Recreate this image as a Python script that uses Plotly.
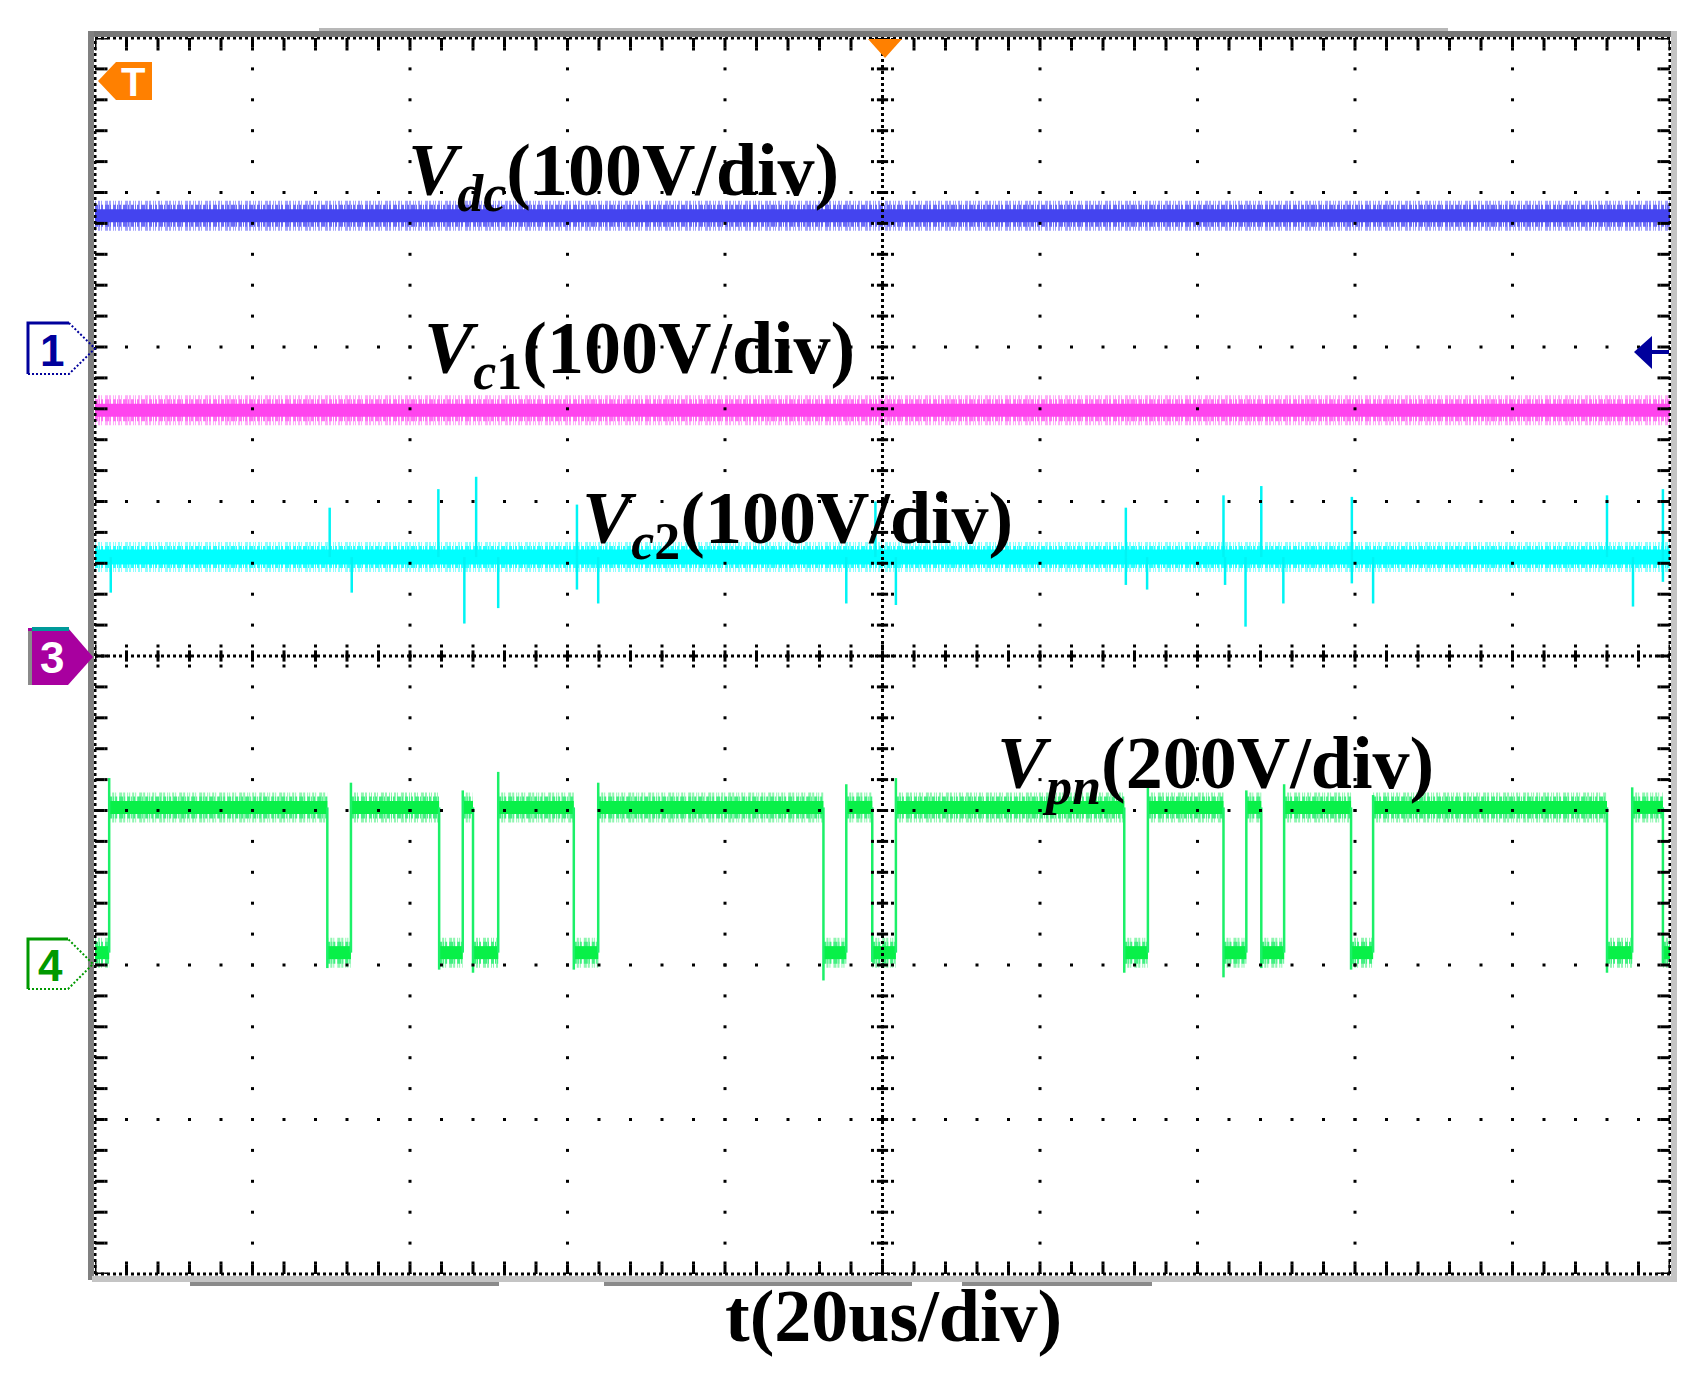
import plotly.graph_objects as go

# ---------------- data ----------------
# time axis in microseconds (20 us/div, 10 div), vertical in screen divisions (8 div)
TIME_SPAN_US = [0.0, 200.0]
VDC_LEVEL_DIV = 6.85
VC1_LEVEL_DIV = 5.59
VC2_LEVEL_DIV = 4.64
VPN_HIGH_DIV = 3.02
VPN_LOW_DIV = 2.08

# Vpn switching edges
VPN_RISE_US = [1.8, 32.5, 46.7, 51.2, 63.9, 95.4, 101.7, 133.7, 146.2, 151.0, 162.3, 195.2]
VPN_RISE_MAX = [3.21, 3.18, 3.13, 3.25, 3.18, 3.17, 3.21, 3.15, 3.13, 3.17, 3.10, 3.15]
VPN_FALL_US = [29.5, 43.7, 48.0, 60.8, 92.5, 98.7, 130.7, 143.3, 148.1, 159.5, 192.0, 199.1]
VPN_FALL_MIN = [1.98, 1.97, 1.95, 1.97, 1.90, 2.02, 1.95, 1.92, 1.98, 1.97, 1.95, 2.01]

# Vc2 switching spikes
VC2_SPIKE_US = [29.8, 43.6, 48.4, 61.2, 99.1, 130.9, 143.3, 148.1, 159.6, 192.0, 199.1,
                2.0, 32.6, 46.9, 51.2, 61.2, 63.9, 95.4, 101.7, 130.9, 133.6, 143.5,
                146.1, 150.9, 159.6, 162.3, 195.3, 199.1]
VC2_SPIKE_PEAK = [4.96, 5.08, 5.16, 4.98, 5.00, 4.96, 5.04, 5.10, 5.03, 5.04, 5.08,
                  4.41, 4.41, 4.21, 4.31, 4.43, 4.34, 4.34, 4.33, 4.46, 4.43, 4.46,
                  4.19, 4.34, 4.47, 4.34, 4.32, 4.48]

LABELS = ["<b><i>V</i><sub><i>dc</i></sub>(100V/div)</b>",
          "<b><i>V</i><sub><i>c</i>1</sub>(100V/div)</b>",
          "<b><i>V</i><sub><i>c</i>2</sub>(100V/div)</b>",
          "<b><i>V</i><sub><i>pn</i></sub>(200V/div)</b>"]
AXIS_LABEL = "<b>t(20us/div)</b>"

# ---------------- geometry (page pixels) ----------------
OFF = 8                     # browser body margin
FW, FH = 1685, 1350         # figure size
PL, PR, PT, PB = 95, 1670, 38, 1274
XMAX, YMAX = 200.0, 8.0


def dx(px):  # pixel length -> data x length
    return px * XMAX / (PR - PL)


def dy(px):
    return px * YMAX / (PB - PT)


def fx(px):  # page pixel -> paper
    return (px - PL) / (PR - PL)


def fy(py):
    return (PB - py) / (PB - PT)


def path(pts, close=True):
    s = "M " + " L ".join(f"{fx(x):.5f},{fy(y):.5f}" for x, y in pts)
    return s + (" Z" if close else "")


fig = go.Figure()

DASH_A = "1px,2px,2px,1px,1px,3px,3px,1px,2px,2px,1px,1px"
DASH_B = "3px,1px,1px,1px,2px,2px,4px,1px,1px,2px"


def band(x, y, c_light, c_mid, c_core, w_light=30, w_mid=22, w_core=12):
    for color, width, dash in [(c_light, w_light, DASH_A), (c_mid, w_mid, DASH_B), (c_core, w_core, "solid")]:
        fig.add_trace(go.Scatter(x=x, y=y, mode="lines",
                                 line=dict(color=color, width=width, dash=dash),
                                 hoverinfo="skip", showlegend=False))


# Vdc, Vc1
band(TIME_SPAN_US, [VDC_LEVEL_DIV] * 2, "#a0a0fc", "#6a6af6", "#4444ef", 30, 22, 13)
band(TIME_SPAN_US, [VC1_LEVEL_DIV] * 2, "#ffacf8", "#ff74f3", "#ff44ee", 30, 22, 13)

# Vc2 with spikes
band(TIME_SPAN_US, [VC2_LEVEL_DIV] * 2, "#8cffff", "#2cffff", "#00ffff", 30, 22, 15)
sx, sy = [], []
for t, p in zip(VC2_SPIKE_US, VC2_SPIKE_PEAK):
    sx += [t, t, None]
    sy += [VC2_LEVEL_DIV, p, None]
fig.add_trace(go.Scatter(x=sx, y=sy, mode="lines", line=dict(color="#00f4f4", width=2.5),
                         hoverinfo="skip", showlegend=False))

# Vpn square wave
events = sorted([(t, "rise", p) for t, p in zip(VPN_RISE_US, VPN_RISE_MAX)] +
                [(t, "fall", p) for t, p in zip(VPN_FALL_US, VPN_FALL_MIN)])
level = VPN_LOW_DIV
t_prev = TIME_SPAN_US[0]
seg_x, seg_y, ex, ey = [], [], [], []
for t, kind, p in events:
    seg_x += [t_prev, t, None]
    seg_y += [level, level, None]
    ex += [t, t, None]
    if kind == "rise":
        ey += [VPN_LOW_DIV, p, None]
        level = VPN_HIGH_DIV
    else:
        ey += [VPN_HIGH_DIV, p, None]
        level = VPN_LOW_DIV
    t_prev = t
seg_x += [t_prev, TIME_SPAN_US[1]]
seg_y += [level, level]
band(seg_x, seg_y, "#8ef6b0", "#40f080", "#08f048", 30, 22, 13)
fig.add_trace(go.Scatter(x=ex, y=ey, mode="lines", line=dict(color="#1cf068", width=2.5),
                         hoverinfo="skip", showlegend=False))

# ---------------- graticule (drawn above traces) ----------------
gx, gy = [], []
for i in range(1, 10):
    for k in range(41):
        gx.append(i * 20)
        gy.append(k * 0.2)
for j in range(1, 8):
    for k in range(51):
        gx.append(k * 4)
        gy.append(j)
fig.add_trace(go.Scatter(x=gx, y=gy, mode="markers",
                         marker=dict(symbol="square", size=3, color="black", line=dict(width=0)),
                         hoverinfo="skip", showlegend=False))

tx_ns, ty_ns, tx_ew, ty_ew, dxs, dys = [], [], [], [], [], []
for k in range(51):
    x = k * 4
    tx_ns += [x, x, x]
    ty_ns += [4, dy(4), YMAX - dy(4)]
    dxs += [x, x, x, x]
    dys += [4 + dy(10), 4 - dy(10), dy(11), YMAX - dy(11)]
for k in range(41):
    y = k * 0.2
    tx_ew += [100, dx(4), XMAX - dx(4)]
    ty_ew += [y, y, y]
    dxs += [100 + dx(10), 100 - dx(10), dx(11), XMAX - dx(11)]
    dys += [y, y, y, y]
fig.add_trace(go.Scatter(x=tx_ns, y=ty_ns, mode="markers",
                         marker=dict(symbol="line-ns", size=8, line=dict(width=3, color="black")),
                         hoverinfo="skip", showlegend=False))
fig.add_trace(go.Scatter(x=tx_ew, y=ty_ew, mode="markers",
                         marker=dict(symbol="line-ew", size=8, line=dict(width=3, color="black")),
                         hoverinfo="skip", showlegend=False))
fig.add_trace(go.Scatter(x=dxs, y=dys, mode="markers",
                         marker=dict(symbol="square", size=3, color="black", line=dict(width=0)),
                         hoverinfo="skip", showlegend=False))

shapes = []
dot = dict(color="black", width=3, dash="3px,3px")
for x0, y0, x1, y1 in [(0, 0, 1, 0), (0, 1, 1, 1), (0, 0, 0, 1), (1, 0, 1, 1),
                       (0, 0.5, 1, 0.5), (0.5, 0, 0.5, 1)]:
    shapes.append(dict(type="line", xref="paper", yref="paper", x0=x0, y0=y0, x1=x1, y1=y1,
                       line=dot, layer="above"))


def rect(x0, y0, x1, y1, color):
    shapes.append(dict(type="rect", xref="paper", yref="paper", x0=fx(x0), x1=fx(x1),
                       y0=fy(y1), y1=fy(y0), fillcolor=color, line=dict(width=0), layer="above"))


# gray bezel
rect(319, 28, 1448, 31, "#b8b8b8")
rect(88, 31, 1677, 37, "#777777")
rect(88, 31, 94, 1280, "#808080")
rect(1671, 31, 1677, 1282, "#c4c4c4")
rect(92, 1276, 1677, 1282, "#c4c4c4")
for a, b in [(190, 499), (604, 912), (962, 1152)]:
    rect(a, 1282, b, 1286, "#8a8a8a")


def poly(pts, fill=None, line=None, close=True):
    d = dict(type="path", xref="paper", yref="paper", path=path(pts, close), layer="above")
    if fill:
        d["fillcolor"] = fill
    d["line"] = line if line else dict(width=0)
    shapes.append(d)


# trigger markers
poly([(98, 81), (116, 62), (152, 62), (152, 100), (116, 100)], fill="#ff8000")
poly([(868, 39), (902, 39), (885, 58)], fill="#ff8000")
# right reference arrow (ch1)
poly([(1634, 352), (1652, 336), (1652, 369)], fill="#00009c")
rect(1650, 350, 1669, 354, "#00009c")
# channel 1 marker
poly([(28, 374), (69, 374), (95, 348.5), (69, 323)], line=dict(color="#00009c", width=2, dash="2px,2px"), close=False)
poly([(28, 374), (28, 323), (69, 323)], line=dict(color="#00009c", width=3), close=False)
# channel 3 marker
poly([(28, 628), (68, 628), (93, 657), (68, 685), (28, 685)], fill="#a8009f")
rect(32, 627, 69, 631, "#009a9a")
rect(28, 631, 32, 685, "#8a8a8a")
# channel 4 marker
poly([(28, 989), (68, 989), (93, 964), (68, 939)], line=dict(color="#009900", width=2, dash="2px,2px"), close=False)
poly([(28, 989), (28, 939), (68, 939)], line=dict(color="#009900", width=3), close=False)

annotations = []


def note(text, px, py, size, color="black", family="Liberation Serif", xanchor="left"):
    annotations.append(dict(text=text, x=fx(px), y=fy(py), xref="paper", yref="paper",
                            xanchor=xanchor, yanchor="middle", showarrow=False,
                            font=dict(family=family, size=size, color=color)))


note(LABELS[0], 406, 176, 74)
note(LABELS[1], 422, 353, 74)
note(LABELS[2], 580, 523, 74)
note(LABELS[3], 995, 768, 74)
note(AXIS_LABEL, 894, 1316, 74, xanchor="center")
note("<b>T</b>", 133, 82, 40, color="white", family="Liberation Sans", xanchor="center")
note("<b>1</b>", 52, 350, 44, color="#00009c", family="Liberation Sans", xanchor="center")
note("<b>3</b>", 52, 658, 44, color="white", family="Liberation Sans", xanchor="center")
note("<b>4</b>", 50, 965, 44, color="#009900", family="Liberation Sans", xanchor="center")

fig.update_layout(
    width=FW, height=FH, autosize=False,
    margin=dict(l=PL - OFF, r=FW - (PR - OFF), t=PT - OFF, b=FH - (PB - OFF), pad=0),
    paper_bgcolor="white", plot_bgcolor="white",
    showlegend=False,
    xaxis=dict(range=[0, XMAX], showgrid=False, zeroline=False, showticklabels=False,
               ticks="", showline=False, fixedrange=True),
    yaxis=dict(range=[0, YMAX], showgrid=False, zeroline=False, showticklabels=False,
               ticks="", showline=False, fixedrange=True),
    shapes=shapes, annotations=annotations,
)

fig.write_html("out.html", config={"displayModeBar": False})
